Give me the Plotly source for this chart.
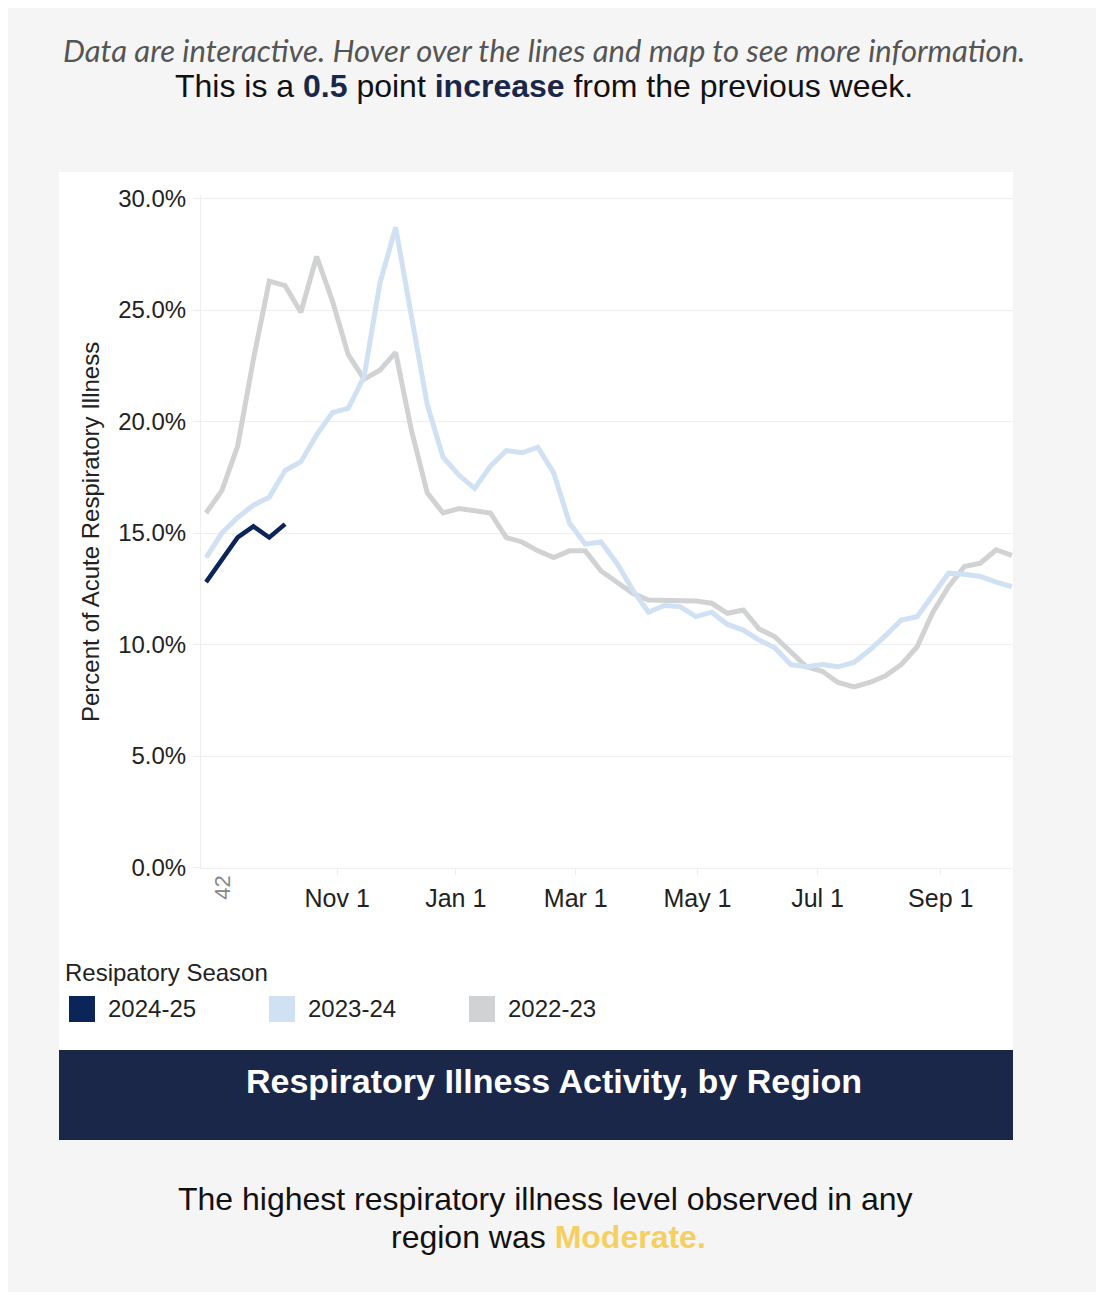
import plotly.graph_objects as go

# week index within the season (0 = first week shown)
weeks = list(range(52))

season_names = ["2024-25", "2023-24", "2022-23"]
season_colors = ["#0c2559", "#cfe1f2", "#d0d2d3"]

pct_2024_25 = [12.8, 13.8, 14.8, 15.3, 14.8, 15.4]

pct_2023_24 = [13.9, 15.0, 15.7, 16.25, 16.6, 17.8, 18.2, 19.4, 20.4, 20.6,
               22.0, 26.2, 28.7, 24.7, 20.75, 18.4, 17.6, 17.0, 18.0, 18.7,
               18.6, 18.85, 17.7, 15.45, 14.5, 14.6, 13.65, 12.45, 11.45, 11.75,
               11.7, 11.25, 11.45, 10.9, 10.65, 10.2, 9.85, 9.1, 9.0, 9.1,
               9.0, 9.2, 9.75, 10.4, 11.1, 11.25, 12.2, 13.2, 13.15, 13.05,
               12.8, 12.6]

pct_2022_23 = [15.9, 16.9, 18.9, 22.8, 26.3, 26.1, 24.9, 27.4, 25.4, 23.0,
               21.9, 22.3, 23.1, 19.6, 16.8, 15.9, 16.1, 16.0, 15.9, 14.8,
               14.6, 14.2, 13.9, 14.2, 14.2, 13.3, 12.8, 12.3, 12.0, 12.0,
               11.95, 11.95, 11.85, 11.4, 11.55, 10.7, 10.35, 9.7, 9.0, 8.8,
               8.3, 8.1, 8.3, 8.6, 9.1, 9.9, 11.45, 12.6, 13.5, 13.65,
               14.25, 14.0]

# month ticks (positions on the week scale) and labels
month_pos = [8.3, 15.8, 23.4, 31.1, 38.7, 46.5]
month_labels = ["Nov 1", "Jan 1", "Mar 1", "May 1", "Jul 1", "Sep 1"]
first_week_label = "42"

y_ticks = [0, 5, 10, 15, 20, 25, 30]

W, H = 1088, 1284


def px(x):
    return x / W


def py(y):
    return 1 - y / H


fig = go.Figure()

series = [pct_2022_23, pct_2023_24, pct_2024_25]
for vals, name, col in zip(series, season_names[::-1], season_colors[::-1]):
    fig.add_trace(go.Scatter(x=weeks[:len(vals)], y=vals, mode="lines", name=name,
                             line=dict(color=col, width=5 if name != "2024-25" else 4.5),
                             hovertemplate="%{y:.1f}%<extra>" + name + "</extra>"))

axis_font = dict(family="Liberation Sans, Arial, sans-serif", color="#222222")

fig.update_layout(
    width=W, height=H,
    margin=dict(l=0, r=0, t=0, b=0, autoexpand=False),
    paper_bgcolor="#f5f5f5",
    plot_bgcolor="rgba(0,0,0,0)",
    showlegend=False,
    xaxis=dict(domain=[px(193), px(1005)], range=[-0.32, 51.07],
               tickvals=month_pos, ticktext=month_labels,
               tickfont=dict(size=25, **axis_font),
               showgrid=False, zeroline=False, automargin=False,
               showline=True, linecolor="#eeeeee", linewidth=1,
               ticks="outside", ticklen=6, tickcolor="#eeeeee",
               ticklabelstandoff=2),
    yaxis=dict(domain=[py(859.5), py(187)], range=[0, 30.16],
               tickvals=y_ticks, ticktext=[f"{v:.1f}%" for v in y_ticks],
               tickfont=dict(size=24, **axis_font),
               showgrid=True, gridcolor="#eeeeee", gridwidth=1,
               zeroline=False, showline=True, linecolor="#eeeeee",
               automargin=False,
               ticks="outside", ticklen=7, tickcolor="#eeeeee",
               ticklabelstandoff=2),
)

# page background blocks
fig.add_shape(type="rect", xref="paper", yref="paper", layer="below",
              x0=px(51), x1=px(1005), y0=py(1042), y1=py(164),
              fillcolor="white", line_width=0)
fig.add_shape(type="rect", xref="paper", yref="paper", layer="below",
              x0=px(51), x1=px(1005), y0=py(1132), y1=py(1042),
              fillcolor="#1a2749", line_width=0)

ann = []
ann.append(dict(text="<i>Data are interactive. Hover over the lines and map to see more information.</i>",
                x=px(536), y=py(42), font=dict(family="Lato", size=31, color="#555555")))
ann.append(dict(text="This is a <b><span style='color:#1a2749'>0.5</span></b> point "
                     "<b><span style='color:#1a2749'>increase</span></b> from the previous week.",
                x=px(536), y=py(78), font=dict(family="Liberation Sans, Arial", size=32, color="#111111")))
ann.append(dict(text="Percent of Acute Respiratory Illness", textangle=-90,
                x=px(83), y=py(524), font=dict(family="Liberation Sans, Arial", size=24, color="#222222")))
ann.append(dict(text=first_week_label, textangle=-90, xref="x", x=weeks[1], y=py(880),
                font=dict(family="Liberation Sans, Arial", size=22, color="#888888")))
ann.append(dict(text="Resipatory Season", x=px(55), y=py(965), xanchor="left",
                font=dict(family="Liberation Sans, Arial", size=24, color="#222222")))

# legend swatches + labels
for i, (name, col) in enumerate(zip(season_names, season_colors)):
    x0 = 61 + 200 * i
    fig.add_shape(type="rect", xref="paper", yref="paper",
                  x0=px(x0), x1=px(x0 + 26), y0=py(1014), y1=py(988),
                  fillcolor=col, line_width=0)
    ann.append(dict(text=name, x=px(x0 + 37), y=py(1001), xanchor="left",
                    font=dict(family="Liberation Sans, Arial", size=24, color="#222222")))

ann.append(dict(text="<b>Respiratory Illness Activity, by Region</b>",
                x=px(546), y=py(1073), font=dict(family="Liberation Sans, Arial", size=34, color="white")))
ann.append(dict(text="The highest respiratory illness level observed in any",
                x=px(537), y=py(1191), font=dict(family="Liberation Sans, Arial", size=32, color="#111111")))
ann.append(dict(text="region was <b><span style='color:#f5d060'>Moderate.</span></b>",
                x=px(540), y=py(1229), font=dict(family="Liberation Sans, Arial", size=32, color="#111111")))

for a in ann:
    a.setdefault("xref", "paper")
    a.setdefault("yref", "paper")
    a.setdefault("showarrow", False)
    a.setdefault("xanchor", "center")
    a.setdefault("yanchor", "middle")
    fig.add_annotation(**a)

fig.write_html("out.html")
